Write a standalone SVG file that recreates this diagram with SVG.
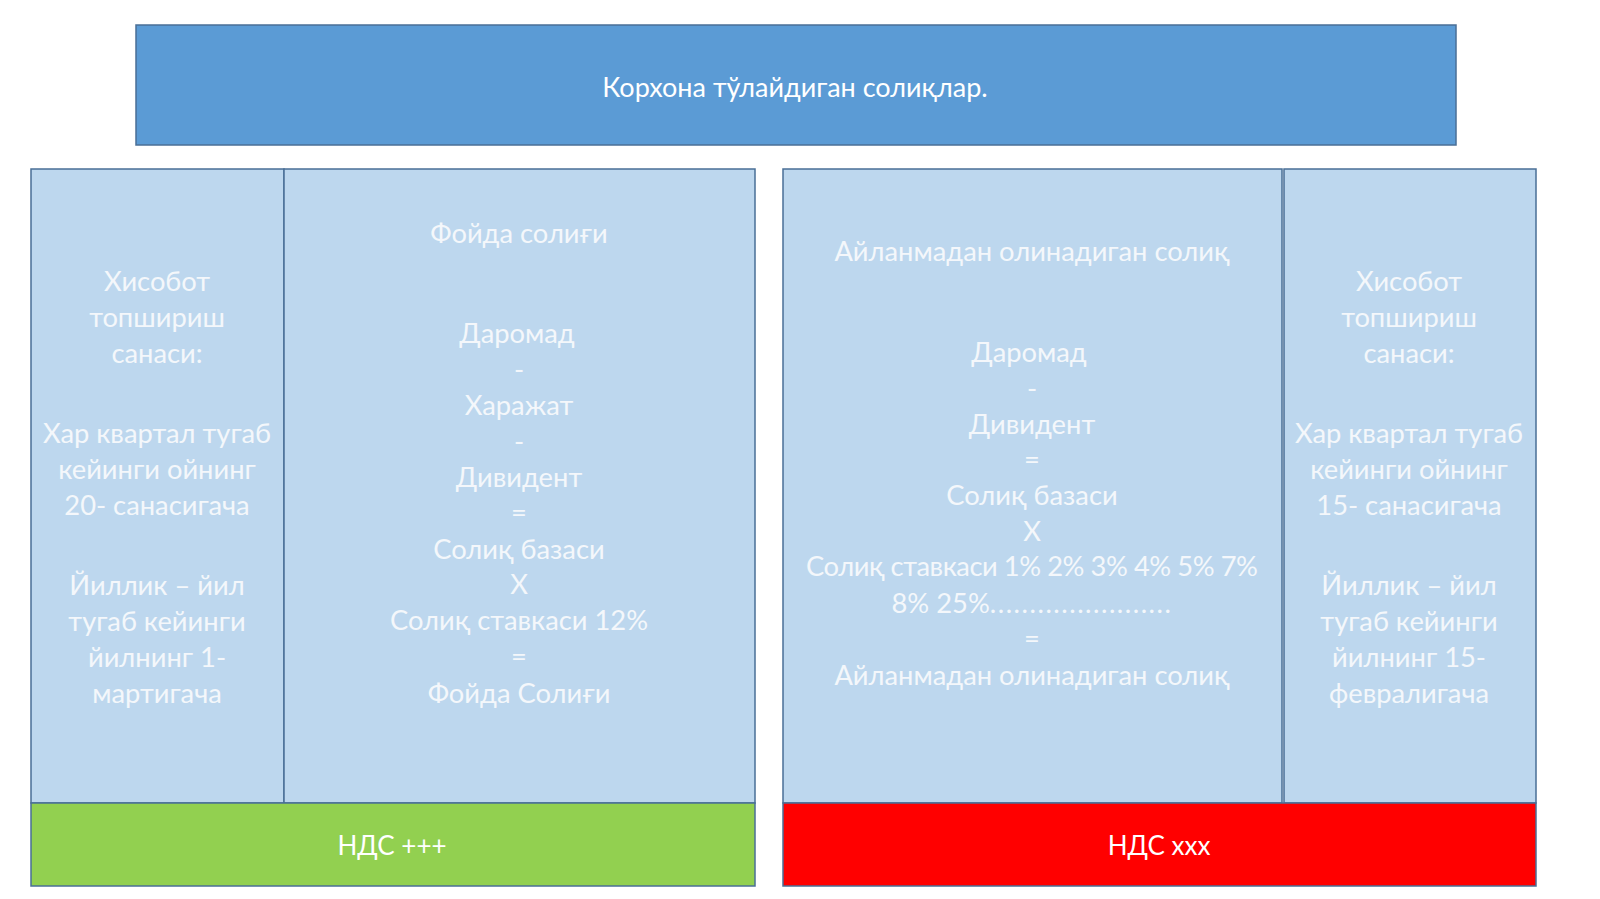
<svg xmlns="http://www.w3.org/2000/svg" width="1600" height="899" viewBox="0 0 1600 899">
<style>
.box{stroke:#4a6f96;stroke-width:1.5}
.title{fill:#5b9bd5}
.panel{fill:#bdd7ee}
.green{fill:#92d050}
.red{fill:#ff0000}
text{font-family:Lato,"Noto Sans",sans-serif;fill:#f4f7fb;text-anchor:middle;font-size:27.3px}
.tt{fill:#ffffff;font-size:27px}
.bt{fill:#ffffff;font-size:26px}
.dots{letter-spacing:1.5px}
</style>
<rect width="1600" height="899" fill="#ffffff"/>
<g id="title">
<rect class="box title" x="136" y="25" width="1320" height="120"/>
<text class="tt" x="795" y="97">Корхона тўлайдиган солиқлар.</text>
</g>
<g id="left-date">
<rect class="box panel" x="31" y="169" width="253" height="634"/>
<text x="157" y="291">Хисобот</text>
<text x="157" y="327">топшириш</text>
<text x="157" y="363">санаси:</text>
<text x="157" y="443">Хар квартал тугаб</text>
<text x="157" y="479">кейинги ойнинг</text>
<text x="157" y="515">20- санасигача</text>
<text x="157" y="595">Йиллик – йил</text>
<text x="157" y="631">тугаб кейинги</text>
<text x="157" y="667">йилнинг 1-</text>
<text x="157" y="703">мартигача</text>
</g>
<g id="profit-tax">
<rect class="box panel" x="284" y="169" width="471" height="634"/>
<text x="519" y="243">Фойда солиғи</text>
<text x="517" y="343">Даромад</text>
<text x="519" y="379">-</text>
<text x="519" y="415">Харажат</text>
<text x="519" y="451">-</text>
<text x="519" y="487">Дивидент</text>
<text x="519" y="522">=</text>
<text x="519" y="559">Солиқ базаси</text>
<text x="519" y="594">X</text>
<text x="519" y="630">Солиқ ставкаси 12%</text>
<text x="519" y="666">=</text>
<text x="519" y="703">Фойда Солиғи</text>
</g>
<g id="turnover-tax">
<rect class="box panel" x="783" y="169" width="499" height="634"/>
<text x="1032" y="261">Айланмадан олинадиган солиқ</text>
<text x="1029" y="362">Даромад</text>
<text x="1032" y="398">-</text>
<text x="1032" y="434">Дивидент</text>
<text x="1032" y="469">=</text>
<text x="1032" y="505">Солиқ базаси</text>
<text x="1032" y="541">X</text>
<text x="1032" y="576" textLength="452">Солиқ ставкаси 1% 2% 3% 4% 5% 7%</text>
<text x="1032" y="613">8% 25%<tspan class="dots">.......................</tspan></text>
<text x="1032" y="648">=</text>
<text x="1032" y="685">Айланмадан олинадиган солиқ</text>
</g>
<g id="right-date">
<rect class="box panel" x="1284" y="169" width="252" height="634"/>
<text x="1409" y="291">Хисобот</text>
<text x="1409" y="327">топшириш</text>
<text x="1409" y="363">санаси:</text>
<text x="1409" y="443">Хар квартал тугаб</text>
<text x="1409" y="479">кейинги ойнинг</text>
<text x="1409" y="515">15- санасигача</text>
<text x="1409" y="595">Йиллик – йил</text>
<text x="1409" y="631">тугаб кейинги</text>
<text x="1409" y="667">йилнинг 15-</text>
<text x="1409" y="703">февралигача</text>
</g>
<g id="vat-plus">
<rect class="box green" x="31" y="803" width="724" height="83"/>
<text class="bt" x="392" y="855">НДС +++</text>
</g>
<g id="vat-minus">
<rect class="box red" x="783" y="803" width="753" height="83"/>
<text class="bt" x="1159" y="855">НДС xxx</text>
</g>
<g id="connectors"></g>
</svg>
